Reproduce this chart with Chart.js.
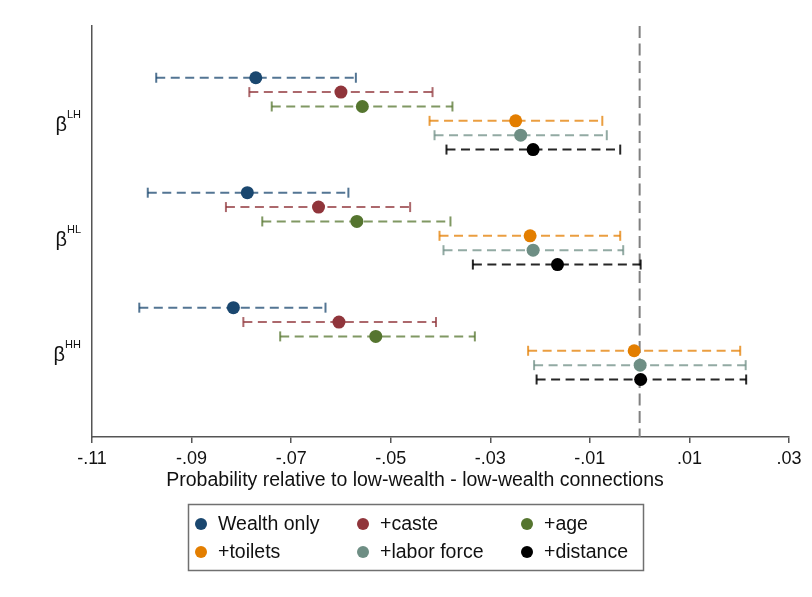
<!DOCTYPE html>
<html>
<head>
<meta charset="utf-8">
<script src="https://cdn.jsdelivr.net/npm/chart.js@4.4.1/dist/chart.umd.min.js"></script>
<style>
  html, body { margin: 0; padding: 0; background: #fff; }
  #wrap { width: 812px; height: 597px; }
</style>
</head>
<body>
<div id="wrap"><canvas id="coefChart" width="812" height="597"></canvas></div>
<script>
// models, one row each inside every group
const models = ["Wealth only", "+caste", "+age", "+toilets", "+labor force", "+distance"];
const modelColors = ["#1a476f", "#90353b", "#55752f", "#e37e00", "#6e8e84", "#000000"];
const groups = ["LH", "HL", "HH"];
const xTicks = [-0.11, -0.09, -0.07, -0.05, -0.03, -0.01, 0.01, 0.03];

// point estimates per model: [LH, HL, HH]
const pointEst = [
  [-0.0771, -0.0788, -0.0816],
  [-0.0600, -0.0645, -0.0604],
  [-0.0557, -0.0568, -0.0530],
  [-0.0249, -0.0220, -0.0011],
  [-0.0239, -0.0214,  0.0001],
  [-0.0214, -0.0165,  0.0002]
];
// lower ends of the confidence intervals
const ciLow = [
  [-0.0971, -0.0988, -0.1005],
  [-0.0784, -0.0831, -0.0796],
  [-0.0739, -0.0758, -0.0722],
  [-0.0422, -0.0402, -0.0224],
  [-0.0412, -0.0394, -0.0212],
  [-0.0388, -0.0335, -0.0207]
];
// upper ends
const ciHigh = [
  [-0.0570, -0.0585, -0.0631],
  [-0.0416, -0.0461, -0.0409],
  [-0.0376, -0.0380, -0.0331],
  [-0.0075, -0.0039,  0.0202],
  [-0.0066, -0.0033,  0.0213],
  [-0.0039,  0.0002,  0.0214]
];

const Y_MIN = -2.6, Y_MAX = 26;
const FONT = '"Liberation Sans", Arial, sans-serif';

function rowOf(g, m) { return g * 8 + m + 1; }
function groupCenter(g) { return g * 8 + 3.5; }
function fade(hex, a) {
  const n = parseInt(hex.slice(1), 16);
  return `rgba(${(n >> 16) & 255}, ${(n >> 8) & 255}, ${n & 255}, ${a})`;
}

const datasets = [];
models.forEach((name, m) => {
  datasets.push({
    label: name,
    data: groups.map((g, k) => ({ x: pointEst[m][k], y: rowOf(k, m) })),
    backgroundColor: modelColors[m],
    borderColor: modelColors[m],
    pointRadius: 6.5,
    pointHoverRadius: 6.5,
    borderWidth: 0,
    order: 0
  });
});
models.forEach((name, m) => {
  groups.forEach((g, k) => {
    const c = fade(modelColors[m], m === 5 ? 0.85 : 0.75);
    datasets.push({
      label: name + " CI " + g,
      data: [{ x: ciLow[m][k], y: rowOf(k, m) }, { x: ciHigh[m][k], y: rowOf(k, m) }],
      showLine: true,
      borderColor: c,
      borderWidth: 2,
      borderDash: [9, 5.5],
      pointStyle: "line",
      rotation: 90,
      pointRadius: 5,
      pointHoverRadius: 5,
      pointBorderColor: c,
      pointBorderWidth: 2,
      order: 1
    });
  });
});
// reference line at zero
datasets.push({
  label: "zero",
  data: [{ x: 0, y: Y_MIN }, { x: 0, y: Y_MAX }],
  showLine: true,
  borderColor: "#808080",
  borderWidth: 2,
  borderDash: [12, 5.5],
  pointRadius: 0,
  order: 2
});

const frame = {
  id: "frame",
  afterDraw(chart) {
    const { ctx } = chart;
    const y = chart.scales.y;
    ctx.save();
    ctx.fillStyle = "#111";

    // beta row labels with superscripts
    groups.forEach((g, k) => {
      const cy = y.getPixelForValue(groupCenter(k));
      ctx.textAlign = "right";
      ctx.textBaseline = "middle";
      ctx.font = "11px " + FONT;
      ctx.fillText(g, 81, cy + 1);
      const w = ctx.measureText(g).width;
      ctx.font = "20px " + FONT;
      ctx.fillText("β", 81 - w, cy + 12);
    });

    // x axis title
    ctx.textAlign = "center";
    ctx.font = "19.5px " + FONT;
    ctx.fillText("Probability relative to low-wealth - low-wealth connections", 415, 481);

    // legend box
    ctx.strokeStyle = "#707070";
    ctx.lineWidth = 1.5;
    ctx.strokeRect(188.5, 504.5, 455, 66);
    const colX = [201, 363, 527];
    const rowY = [524, 552];
    ctx.textAlign = "left";
    ctx.font = "19.5px " + FONT;
    models.forEach((name, m) => {
      const cx = colX[m % 3], cy = rowY[Math.floor(m / 3)];
      ctx.fillStyle = modelColors[m];
      ctx.beginPath();
      ctx.arc(cx, cy, 6, 0, Math.PI * 2);
      ctx.fill();
      ctx.fillStyle = "#111";
      ctx.fillText(name, cx + 17, cy + 1);
    });
    ctx.restore();
  }
};

new Chart(document.getElementById("coefChart").getContext("2d"), {
  type: "scatter",
  data: { datasets },
  options: {
    responsive: false,
    animation: false,
    devicePixelRatio: 1,
    layout: { padding: { top: 26, right: 23, left: 0, bottom: 0 } },
    plugins: { legend: { display: false }, tooltip: { enabled: false } },
    scales: {
      x: {
        type: "linear",
        min: -0.11,
        max: 0.03,
        afterBuildTicks: scale => { scale.ticks = xTicks.map(v => ({ value: v })); },
        afterFit: scale => { scale.height = 160; },
        grid: { drawOnChartArea: false, drawTicks: true, tickLength: 6, color: "#555", lineWidth: 1.5 },
        border: { display: true, color: "#555", width: 1.5 },
        ticks: {
          font: { size: 18, family: FONT },
          color: "#111",
          padding: 5,
          maxRotation: 0,
          autoSkip: false,
          callback: v => v.toFixed(2).replace("0.", ".")
        }
      },
      y: {
        type: "linear",
        min: Y_MIN,
        max: Y_MAX,
        reverse: true,
        afterFit: scale => { scale.width = 92; },
        grid: { display: false },
        border: { display: true, color: "#555", width: 1.5 },
        ticks: { display: false }
      }
    }
  },
  plugins: [frame]
});
</script>
</body>
</html>
